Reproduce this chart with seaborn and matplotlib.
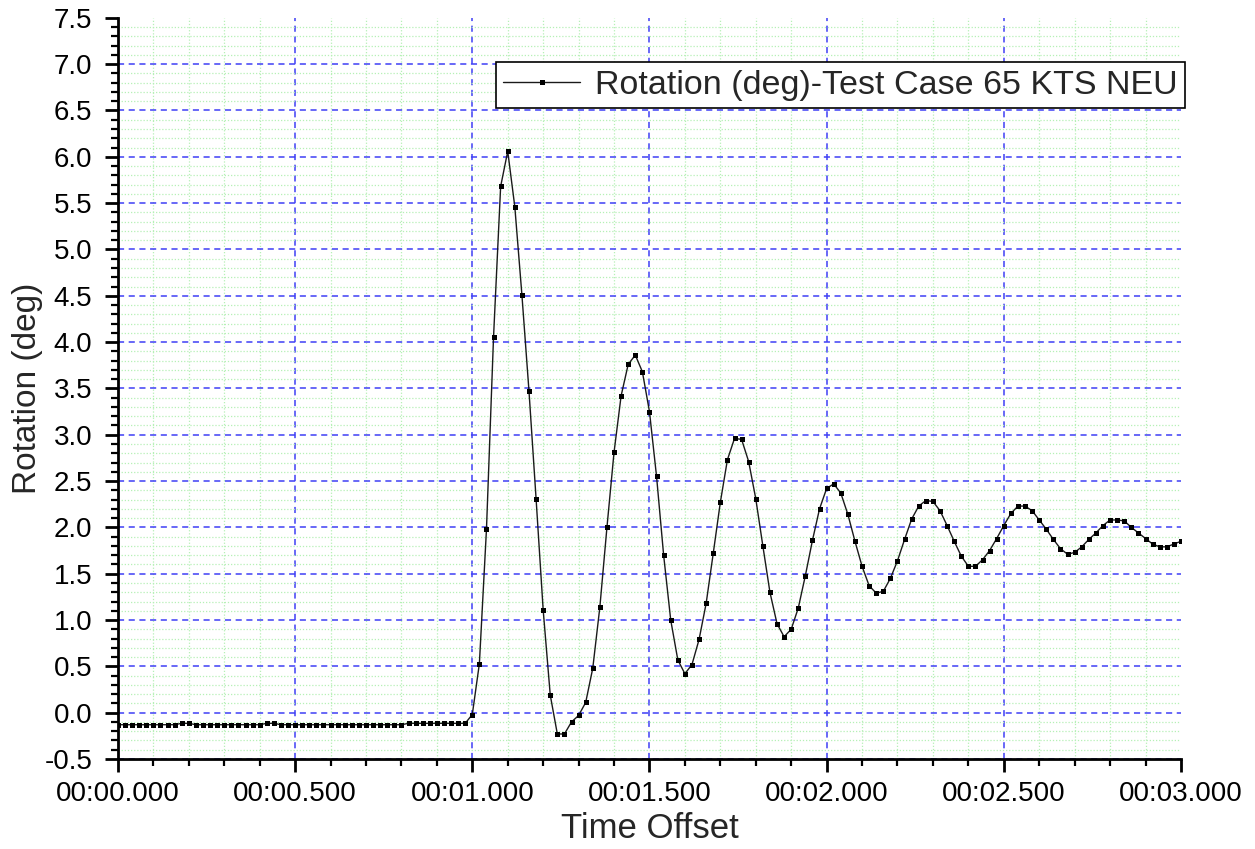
import numpy as np
import pandas as pd
import matplotlib
matplotlib.use("Agg")
import matplotlib.pyplot as plt
from matplotlib.ticker import MultipleLocator, FixedLocator, FixedFormatter
import seaborn as sns

# ---------------- data ----------------
time_s = np.round(np.linspace(0.0, 3.0, 151), 2)

rotation_baseline = (
    [-0.13] * 9 + [-0.115] * 2 + [-0.13] * 10 + [-0.115] * 2 +
    [-0.13] * 18 + [-0.115] * 9
)
rotation_response = [
    -0.02, 0.53, 1.98, 4.06, 5.68, 6.06, 5.46, 4.51, 3.47, 2.31,
    1.11, 0.19, -0.23, -0.23, -0.10, -0.03, 0.11, 0.48, 1.14, 2.00,
    2.81, 3.42, 3.76, 3.86, 3.68, 3.25, 2.55, 1.70, 1.00, 0.57,
    0.42, 0.52, 0.79, 1.18, 1.72, 2.27, 2.73, 2.96, 2.95, 2.71,
    2.31, 1.80, 1.30, 0.96, 0.82, 0.90, 1.13, 1.48, 1.86, 2.20,
    2.42, 2.47, 2.37, 2.14, 1.85, 1.58, 1.37, 1.29, 1.31, 1.45,
    1.64, 1.87, 2.09, 2.23, 2.29, 2.28, 2.18, 2.02, 1.85, 1.69,
    1.58, 1.58, 1.65, 1.75, 1.88, 2.02, 2.15, 2.23, 2.23, 2.18,
    2.08, 1.98, 1.87, 1.77, 1.71, 1.73, 1.79, 1.87, 1.94, 2.02,
    2.08, 2.08, 2.07, 2.00, 1.94, 1.88, 1.82, 1.79, 1.79, 1.82,
    1.85,
]
rotation_deg = rotation_baseline + rotation_response

x_ticks = [0.0, 0.5, 1.0, 1.5, 2.0, 2.5, 3.0]
x_tick_labels = ["00:00.000", "00:00.500", "00:01.000", "00:01.500",
                 "00:02.000", "00:02.500", "00:03.000"]
y_ticks = [-0.5, 0.0, 0.5, 1.0, 1.5, 2.0, 2.5, 3.0, 3.5, 4.0,
           4.5, 5.0, 5.5, 6.0, 6.5, 7.0, 7.5]
y_tick_labels = ["-0.5", "0.0", "0.5", "1.0", "1.5", "2.0", "2.5", "3.0", "3.5",
                 "4.0", "4.5", "5.0", "5.5", "6.0", "6.5", "7.0", "7.5"]

series_name = "Rotation (deg)-Test Case 65 KTS NEU"
df = pd.DataFrame({"Time Offset": time_s, "Rotation (deg)": rotation_deg})

# ---------------- style ----------------
sns.set_style("white")
plt.rcParams["font.family"] = ["Liberation Sans", "DejaVu Sans"]

fig = plt.figure(figsize=(12.55, 8.49), dpi=100)
ax = fig.add_axes([0.094, 0.106, 0.847, 0.873])

sns.lineplot(data=df, x="Time Offset", y="Rotation (deg)", ax=ax,
             color="#1a1a1a", linewidth=1.0, marker="s", markersize=3.6,
             markeredgewidth=0, markerfacecolor="black", label=series_name,
             zorder=5)

ax.set_xlim(0, 3.0)
ax.set_ylim(-0.5, 7.5)

ax.xaxis.set_major_locator(FixedLocator(x_ticks))
ax.xaxis.set_major_formatter(FixedFormatter(x_tick_labels))
ax.yaxis.set_major_locator(FixedLocator(y_ticks))
ax.yaxis.set_major_formatter(FixedFormatter(y_tick_labels))
ax.xaxis.set_minor_locator(MultipleLocator(0.1))
ax.yaxis.set_minor_locator(MultipleLocator(0.1))

ax.grid(which="minor", color="#b6f0b6", linestyle=(0, (1, 1.5)), linewidth=0.9)
ax.grid(which="major", color="#3f3ff5", linestyle=(0, (4, 3)), linewidth=1.1)
ax.set_axisbelow(True)

for s in ["top", "right"]:
    ax.spines[s].set_visible(False)
for s in ["left", "bottom"]:
    ax.spines[s].set_linewidth(2.0)
    ax.spines[s].set_color("black")

ax.tick_params(axis="x", which="both", bottom=True, top=False)
ax.tick_params(axis="y", which="both", left=True, right=False)
ax.tick_params(which="major", direction="out", length=9.5, width=2.0,
               labelsize=20, colors="black")
ax.tick_params(which="minor", direction="out", length=5, width=1.6,
               colors="black")
ax.tick_params(axis="y", which="major", pad=9)
ax.tick_params(axis="x", which="major", pad=6)

# no grid lines on the open top / right edges
fig.canvas.draw()
ax.xaxis.get_major_ticks()[-1].gridline.set_visible(False)
ax.yaxis.get_major_ticks()[-1].gridline.set_visible(False)
for t in ax.xaxis.get_minor_ticks():
    if abs(t.get_loc() - 3.0) < 1e-6:
        t.gridline.set_visible(False)
for t in ax.yaxis.get_minor_ticks():
    if abs(t.get_loc() - 7.5) < 1e-6:
        t.gridline.set_visible(False)

ax.set_xlabel("Time Offset", fontsize=25, labelpad=4)
ax.set_ylabel("Rotation (deg)", fontsize=24, labelpad=1)

leg = ax.legend(loc="upper right", bbox_to_anchor=(1.004, 0.940), fontsize=24.5,
                frameon=True, fancybox=False, edgecolor="black",
                framealpha=1.0, borderpad=0.22, handlelength=2.25,
                handletextpad=0.45, borderaxespad=0)
leg.get_frame().set_linewidth(1.2)

fig.savefig("out.png", dpi=100)
